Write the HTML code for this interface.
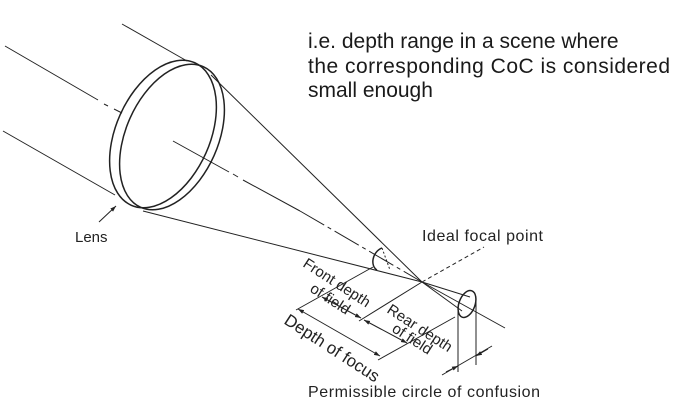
<!DOCTYPE html>
<html><head><style>
html,body{margin:0;padding:0;background:#fff;}
svg{display:block;font-family:"Liberation Sans",sans-serif;}
</style></head><body>
<svg width="675" height="414" viewBox="0 0 675 414" xmlns="http://www.w3.org/2000/svg">
<defs>
<marker id="a" viewBox="0 0 10 10" refX="10" refY="5" markerWidth="6" markerHeight="6" orient="auto-start-reverse"><path d="M0,1.5 L10,5 L0,8.5z" fill="#222"/></marker>
</defs>
<g stroke="#222" stroke-width="1" fill="none">
<line x1="122" y1="24" x2="187" y2="61"/>
<line x1="5" y1="46" x2="98" y2="100"/>
<line x1="104" y1="104" x2="108" y2="106"/>
<line x1="114" y1="109" x2="122" y2="113"/>
<line x1="3" y1="131" x2="115" y2="195"/>
<ellipse cx="163" cy="134" rx="47" ry="78" transform="rotate(24 163 134)" stroke-width="1.5"/>
<ellipse cx="172" cy="137" rx="46" ry="77" transform="rotate(24 172 137)" stroke-width="1.5"/>
<line x1="211" y1="75" x2="422" y2="282"/>
<line x1="143" y1="211" x2="422" y2="282"/>
<line x1="173" y1="141" x2="229" y2="172"/>
<line x1="233" y1="174" x2="238" y2="177"/>
<line x1="243" y1="180" x2="300" y2="211"/>
<line x1="300" y1="211" x2="422" y2="282" stroke-dasharray="28 4 4 4"/>
<line x1="422" y1="282" x2="505" y2="328"/>
<line x1="422" y1="282" x2="462" y2="311"/>
<line x1="422" y1="282" x2="470" y2="297"/>
<line x1="422" y1="282" x2="484" y2="247" stroke-dasharray="4 3"/>
<path d="M382,248 C372,252 370,266 377,270" stroke-width="1.5"/>
<line x1="382" y1="248" x2="390" y2="270" stroke-dasharray="2 2"/>
<ellipse cx="467" cy="304" rx="8" ry="14" transform="rotate(20 467 304)" stroke-width="1.5"/>
<line x1="458" y1="310" x2="458" y2="372"/>
<line x1="476" y1="298" x2="476" y2="365"/>
<line x1="442" y1="375" x2="492" y2="346"/>
<line x1="373" y1="267" x2="296" y2="310"/>
<line x1="422" y1="282" x2="359" y2="321"/>
<line x1="455" y1="317" x2="378" y2="360"/>
<line x1="322" y1="297" x2="361" y2="318" marker-start="url(#a)" marker-end="url(#a)"/>
<line x1="364" y1="320" x2="407" y2="343" marker-start="url(#a)" marker-end="url(#a)"/>
<line x1="298" y1="309" x2="380" y2="356" marker-start="url(#a)" marker-end="url(#a)"/>
<line x1="446" y1="372" x2="458" y2="366" marker-end="url(#a)"/>
<line x1="488" y1="349" x2="476" y2="356" marker-end="url(#a)"/>
<line x1="99" y1="222" x2="116" y2="206" marker-end="url(#a)"/>
</g>
<g fill="#222">
<text x="75" y="242" font-size="15">Lens</text>
<text x="422" y="241" font-size="16" textLength="121">Ideal focal point</text>
<text x="308" y="397" font-size="16" textLength="232">Permissible circle of confusion</text>
<text x="302" y="266" font-size="15" transform="rotate(33 302 266)">Front depth</text>
<text x="309" y="291" font-size="15" transform="rotate(33 309 291)">of field</text>
<text x="386" y="312" font-size="15" transform="rotate(33 386 312)">Rear depth</text>
<text x="391" y="331" font-size="15" transform="rotate(33 391 331)">of field</text>
<text x="283" y="323" font-size="17" transform="rotate(33 283 323)">Depth of focus</text>
</g>
<g fill="#1a1a1a" font-size="21">
<text x="308" y="48">i.e. depth range in a scene where</text>
<text x="308" y="73" textLength="362">the corresponding CoC is considered</text>
<text x="308" y="97">small enough</text>
</g>
</svg>
</body></html>
